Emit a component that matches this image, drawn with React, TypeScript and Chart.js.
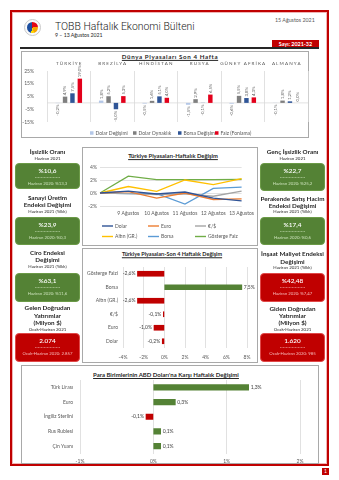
import React, { useEffect, useRef } from 'react';
import { Chart, registerables } from 'chart.js';

Chart.register(...registerables);
Chart.defaults.font.family = 'Lato, "Open Sans", sans-serif';

// ---------------- Data ----------------
// Dünya Piyasaları Son 4 Hafta
const worldCountries = ['TÜRKİYE', 'BREZİLYA', 'HİNDİSTAN', 'RUSYA', 'GÜNEY AFRİKA', 'ALMANYA'];
const worldSeriesNames = ['Dolar Değişimi', 'Dolar Oynaklık', 'Borsa Değişim', 'Faiz (Fonlama)'];
const worldDolar = [-0.2, 1.8, -0.5, -1.5, -0.6, -0.1];
const worldOynaklik = [4.9, 5.2, 1.6, 2.9, 5.5, 1.8];
const worldBorsa = [7.5, -5.0, 5.1, -0.1, 3.8, 1.2];
const worldFaiz = [19.0, 5.3, 4.0, 6.5, 4.3, 0.0];

// Türkiye Piyasaları - Haftalık Değişim
const weekLabels = ['', '9 Ağustos', '10 Ağustos', '11 Ağustos', '12 Ağustos', '13 Ağustos'];
const weekSeriesNames = ['Dolar', 'Euro', '€/$', 'Altın (GR.)', 'Borsa', 'Gösterge Faiz'];
const weekDolar = [0, 0.3, -0.15, 0.15, -0.8, -1.2];
const weekEuro = [0, 0.2, -0.8, 0.0, -1.0, -0.9];
const weekEurUsd = [0, -0.1, -0.25, -0.15, -0.5, 0.3];
const weekAltin = [0, 1.0, 0.25, 2.0, 1.3, 2.2];
const weekBorsa = [0, -0.1, -0.1, -1.7, 0.7, 0.9];
const weekFaiz = [0, 2.6, 2.05, 2.05, 2.05, 2.1];

// Türkiye Piyasaları - Son 4 Haftalık Değişim
const monthLabels = ['Gösterge Faizi', 'Borsa', 'Altın (GR.)', '€/$', 'Euro', 'Dolar'];
const monthValues = [-2.6, 7.5, -2.6, -0.1, -1.0, -0.2];

// Para Birimlerinin ABD Doları'na Karşı Haftalık Değişimi
const fxLabels = ['Türk Lirası', 'Euro', 'İngiliz Sterlini', 'Rus Rublesi', 'Çin Yuanı'];
const fxValues = [1.3, 0.3, -0.1, 0.1, 0.1];

// Gösterge kartları
const leftCards = [
  { title: ['İşsizlik Oranı'], period: 'Haziran 2021', value: '%10,6', prev: 'Haziran 2020: %13,3', good: true },
  { title: ['Sanayi Üretim', 'Endeksi Değişimi'], period: 'Haziran 2021 (Yıllık)', value: '%23,9', prev: 'Haziran 2020: %0,3', good: true },
  { title: ['Ciro Endeksi', 'Değişimi'], period: 'Haziran 2021 (Yıllık)', value: '%63,1', prev: 'Haziran 2020: %11,6', good: true },
  { title: ['Gelen Doğrudan', 'Yatırımlar', '(Milyon $)'], period: 'Ocak-Haziran 2021', value: '2.074', prev: 'Ocak-Haziran 2020: 2.857', good: false },
];
const rightCards = [
  { title: ['Genç İşsizlik Oranı'], period: 'Haziran 2021', value: '%22,7', prev: 'Haziran 2020: %25,2', good: true },
  { title: ['Perakende Satış Hacim', 'Endeksi Değişimi'], period: 'Haziran 2021 (Yıllık)', value: '%17,4', prev: 'Haziran 2020: %0,6', good: true },
  { title: ['İnşaat Maliyet Endeksi', 'Değişimi'], period: 'Haziran 2021 (Yıllık)', value: '%42,48', prev: 'Haziran 2020: %7,47', good: false },
  { title: ['Giden Doğrudan', 'Yatırımlar', '(Milyon $)'], period: 'Ocak-Haziran 2021', value: '1.620', prev: 'Ocak-Haziran 2020: 985', good: false },
];

// ---------------- Helpers ----------------
const fmtPct = (v: number) => (v < 0 ? '-' : '') + Math.abs(v).toFixed(1).replace('.', ',') + '%';
const FONT = 'Lato, "Open Sans", sans-serif';
const GREEN = '#548235';
const RED = '#c00000';

function makeValueLabels(id: string, mode: 'vertical' | 'horizontal', size: number, color: string) {
  return {
    id,
    afterDatasetsDraw(chart: any) {
      const ctx = chart.ctx;
      ctx.save();
      ctx.font = `${size}px ${FONT}`;
      ctx.fillStyle = color;
      chart.data.datasets.forEach((ds: any, di: number) => {
        const meta = chart.getDatasetMeta(di);
        meta.data.forEach((el: any, i: number) => {
          const v = ds.data[i];
          const txt = fmtPct(v);
          if (mode === 'vertical') {
            ctx.save();
            ctx.translate(el.x, v >= 0 ? el.y - 1.5 : el.y + 1.5);
            ctx.rotate(-Math.PI / 2);
            ctx.textAlign = v >= 0 ? 'left' : 'right';
            ctx.textBaseline = 'middle';
            ctx.fillText(txt, 0, 0);
            ctx.restore();
          } else {
            ctx.textBaseline = 'middle';
            ctx.textAlign = v >= 0 ? 'left' : 'right';
            ctx.fillText(txt, v >= 0 ? el.x + 2 : el.x - 2, el.y);
          }
        });
      });
      ctx.restore();
    },
  };
}

function makeLegend(id: string, pos: { x: number; y: number }[], kind: 'box' | 'line', size: number, len: number) {
  return {
    id,
    afterDraw(chart: any) {
      const ctx = chart.ctx;
      ctx.save();
      ctx.font = `${size}px ${FONT}`;
      ctx.textBaseline = 'middle';
      ctx.textAlign = 'left';
      chart.data.datasets.forEach((ds: any, i: number) => {
        const p = pos[i];
        if (!p) return;
        if (kind === 'box') {
          ctx.fillStyle = ds.backgroundColor;
          ctx.fillRect(p.x, p.y - len / 2, len, len);
        } else {
          ctx.strokeStyle = ds.borderColor;
          ctx.lineWidth = 1.4;
          ctx.beginPath();
          ctx.moveTo(p.x, p.y);
          ctx.lineTo(p.x + len, p.y);
          ctx.stroke();
        }
        ctx.fillStyle = '#595959';
        ctx.fillText(ds.label, p.x + len + 2, p.y);
      });
      ctx.restore();
    },
  };
}

const topCategoryLabels = {
  id: 'topCats',
  afterDraw(chart: any) {
    const ctx = chart.ctx;
    const xs = chart.scales.x;
    ctx.save();
    ctx.font = `4.6px ${FONT}`;
    ctx.fillStyle = '#595959';
    ctx.textAlign = 'center';
    ctx.textBaseline = 'middle';
    (ctx as any).letterSpacing = '1.1px';
    chart.data.labels.forEach((l: any, i: number) => {
      ctx.fillText(String(l), xs.getPixelForValue(i) + 0.5, 13);
    });
    ctx.restore();
  },
};

const zeroLine = {
  id: 'zeroLine',
  beforeDatasetsDraw(chart: any) {
    const ctx = chart.ctx;
    const y = chart.scales.y.getPixelForValue(0);
    const a = chart.chartArea;
    ctx.save();
    ctx.strokeStyle = '#d9d9d9';
    ctx.lineWidth = 0.8;
    ctx.beginPath();
    ctx.moveTo(a.left, y);
    ctx.lineTo(a.right, y);
    ctx.stroke();
    ctx.restore();
  },
};

// ---------------- Chart configs ----------------
function worldConfig() {
  const colors = ['#b4c7e7', '#7f7f7f', '#2f5597', '#e3001b'];
  const series = [worldDolar, worldOynaklik, worldBorsa, worldFaiz];
  return {
    type: 'bar',
    data: {
      labels: worldCountries,
      datasets: series.map((d, i) => ({
        label: worldSeriesNames[i],
        data: d,
        backgroundColor: colors[i],
        categoryPercentage: 0.68,
        barPercentage: 0.6,
      })),
    },
    options: {
      animation: false,
      responsive: false,
      layout: { padding: { top: 20, bottom: 9, right: 1, left: 0 } },
      plugins: { legend: { display: false }, tooltip: { enabled: false } },
      scales: {
        x: {
          ticks: { display: false },
          grid: { offset: true, drawTicks: false, color: '#d9d9d9', lineWidth: 0.8 },
          border: { display: false },
          afterFit: (s: any) => { s.height = 0; },
        },
        y: {
          min: -15,
          max: 25,
          ticks: { stepSize: 10, callback: (v: any) => v + '%', font: { size: 5 }, color: '#595959', padding: 13 },
          grid: { display: false, drawTicks: false },
          border: { display: false },
          afterFit: (s: any) => { s.width = 26; },
        },
      },
    },
    plugins: [
      zeroLine,
      makeValueLabels('worldLabels', 'vertical', 4.3, '#595959'),
      topCategoryLabels,
      makeLegend('worldLegend', [{ x: 69, y: 82 }, { x: 112, y: 82 }, { x: 157, y: 82 }, { x: 194, y: 82 }], 'box', 5, 3.5),
    ],
  };
}

function weekConfig() {
  const colors = ['#305496', '#ed7d31', '#a5a5a5', '#ffc000', '#5b9bd5', '#70ad47'];
  const series = [weekDolar, weekEuro, weekEurUsd, weekAltin, weekBorsa, weekFaiz];
  return {
    type: 'line',
    data: {
      labels: weekLabels,
      datasets: series.map((d, i) => ({
        label: weekSeriesNames[i],
        data: d,
        borderColor: colors[i],
        backgroundColor: colors[i],
        borderWidth: 1.3,
        pointRadius: 0,
        tension: 0,
      })),
    },
    options: {
      animation: false,
      responsive: false,
      layout: { padding: { top: 20, bottom: 28, right: 8, left: 0 } },
      plugins: { legend: { display: false }, tooltip: { enabled: false } },
      scales: {
        x: {
          ticks: { font: { size: 5 }, color: '#595959', padding: 4, maxRotation: 0, autoSkip: false },
          grid: { display: false, drawTicks: false },
          border: { display: false },
          afterFit: (s: any) => { s.height = 12; },
        },
        y: {
          min: -2,
          max: 4,
          ticks: { stepSize: 2, callback: (v: any) => v + '%', font: { size: 5 }, color: '#595959', padding: 3 },
          grid: { color: '#d9d9d9', lineWidth: 0.8, drawTicks: false },
          border: { display: false },
          afterFit: (s: any) => { s.width = 18; },
        },
      },
    },
    plugins: [
      makeLegend('weekLegend', [
        { x: 20, y: 79 }, { x: 66, y: 79 }, { x: 113, y: 79 },
        { x: 20, y: 89.5 }, { x: 66, y: 89.5 }, { x: 113, y: 89.5 },
      ], 'line', 5, 11),
    ],
  };
}

function hbarConfig(labels: string[], values: number[], opt: any) {
  return {
    type: 'bar',
    data: {
      labels,
      datasets: [{
        label: 'Değişim',
        data: values,
        backgroundColor: values.map((v) => (v >= 0 ? GREEN : RED)),
        barThickness: opt.thickness,
      }],
    },
    options: {
      indexAxis: 'y',
      animation: false,
      responsive: false,
      layout: { padding: opt.padding },
      plugins: { legend: { display: false }, tooltip: { enabled: false } },
      scales: {
        x: {
          min: opt.min,
          max: opt.max,
          ticks: { stepSize: opt.step, callback: (v: any) => v + '%', font: { size: 5 }, color: '#595959', padding: opt.xPad },
          grid: { color: '#d9d9d9', lineWidth: 0.8, drawTicks: false },
          border: { display: false },
          afterFit: (s: any) => { s.height = opt.xH; },
        },
        y: {
          ticks: { font: { size: 5 }, color: '#595959', padding: opt.yPad, autoSkip: false },
          grid: { display: false, drawTicks: false },
          border: { display: false },
          afterFit: (s: any) => { s.width = opt.yW; },
        },
      },
    },
    plugins: [makeValueLabels(opt.id, 'horizontal', 5, '#404040')],
  };
}

// ---------------- Components ----------------
function ChartCanvas({ left, top, width, height, make }: any) {
  const ref = useRef<HTMLCanvasElement>(null);
  useEffect(() => {
    const chart = new Chart(ref.current as any, make());
    return () => chart.destroy();
  }, []);
  return (
    <canvas
      ref={ref}
      width={width}
      height={height}
      style={{ position: 'absolute', left, top, width, height }}
    />
  );
}

function Txt({ x, y, size, bold, color, children, ls, underline, weight }: any) {
  return (
    <div
      style={{
        position: 'absolute',
        left: x - 100,
        width: 200,
        top: y,
        transform: 'translateY(-50%)',
        textAlign: 'center',
        fontSize: size,
        lineHeight: 1,
        whiteSpace: 'nowrap',
        fontWeight: weight ?? (bold ? 700 : 400),
        color: color || '#262626',
        letterSpacing: ls || 0,
        textDecoration: underline ? 'underline' : 'none',
      }}
    >
      {children}
    </div>
  );
}

function Box({ left, top, width, height }: any) {
  return (
    <div style={{ position: 'absolute', left, top, width, height, boxSizing: 'border-box', border: '1px solid #a9a9a9' }} />
  );
}

function CardView({ cx, titleYs, periodY, boxTop, boxH, card }: any) {
  const bg = card.good ? GREEN : RED;
  const light = card.good ? '#c9e0b8' : '#f6b9b9';
  return (
    <>
      {card.title.map((t: string, i: number) => (
        <Txt key={i} x={cx} y={titleYs[i]} size={6.3} bold>{t}</Txt>
      ))}
      <Txt x={cx} y={periodY} size={4.4} color="#262626">{card.period}</Txt>
      <div
        style={{
          position: 'absolute', left: cx - 32.5, top: boxTop, width: 65, height: boxH,
          background: bg, borderRadius: 4, boxSizing: 'border-box',
          border: `1px solid ${card.good ? '#6b9a47' : '#e04848'}`,
        }}
      />
      <Txt x={cx} y={boxTop + 8} size={6.4} color="#ffffff" weight={600}>{card.value}</Txt>
      <Txt x={cx} y={boxTop + 14.5} size={4} color={light}>{'-----------------'}</Txt>
      <Txt x={cx} y={boxTop + 21} size={4.3} color={light}>{card.prev}</Txt>
    </>
  );
}

const leftLayout = [
  { titleYs: [152], periodY: 158.5, boxTop: 163, boxH: 26 },
  { titleYs: [198, 205], periodY: 211.5, boxTop: 217, boxH: 28 },
  { titleYs: [253, 260], periodY: 266.5, boxTop: 273, boxH: 29 },
  { titleYs: [308, 315.5, 323], periodY: 329.5, boxTop: 333, boxH: 29 },
];
const rightLayout = [
  { titleYs: [152], periodY: 158.5, boxTop: 163, boxH: 28 },
  { titleYs: [198.5, 205.5], periodY: 212, boxTop: 217, boxH: 28 },
  { titleYs: [254, 261.5], periodY: 268, boxTop: 273, boxH: 29 },
  { titleYs: [308.5, 316, 323], periodY: 330, boxTop: 333, boxH: 29 },
];

export default function App() {
  useEffect(() => {
    document.body.style.margin = '0';
  }, []);
  return (
    <div
      style={{
        position: 'absolute', left: 0, top: 0, width: 339, height: 480, background: '#ffffff',
        fontFamily: FONT, overflow: 'hidden', color: '#262626',
      }}
    >
      {/* page frame */}
      <div
        style={{
          position: 'absolute', left: 10, top: 10, width: 319, height: 456, boxSizing: 'border-box',
          border: '2px solid #c00000', boxShadow: 'inset 0 0 0 1px #f0b4b4',
        }}
      />

      {/* header */}
      <div
        style={{
          position: 'absolute', left: 24, top: 19, width: 17, height: 17, borderRadius: '50%',
          border: '1px solid #c9c9c9', boxSizing: 'border-box', background: '#fafafa',
        }}
      />
      <div
        style={{
          position: 'absolute', left: 27, top: 22, width: 11, height: 11, borderRadius: '50%',
          background: 'conic-gradient(#e30613 0 22%, #f7a600 22% 45%, #ffd500 45% 55%, #1d4f9f 55% 100%)',
        }}
      />
      <div
        style={{
          position: 'absolute', left: 55, top: 21.5, fontSize: 10.4, fontFamily: 'Roboto, sans-serif',
          fontWeight: 300, lineHeight: 1, whiteSpace: 'nowrap', color: '#1a1a1a',
        }}
      >
        TOBB Haftalık Ekonomi Bülteni
      </div>
      <div style={{ position: 'absolute', left: 55, top: 32.5, fontSize: 5.2, lineHeight: 1, whiteSpace: 'nowrap' }}>
        9 – 13 Ağustos 2021
      </div>
      <div style={{ position: 'absolute', left: 275, top: 17.5, fontSize: 5.3, lineHeight: 1, whiteSpace: 'nowrap', color: '#595959' }}>
        15 Ağustos 2021
      </div>
      <div
        style={{
          position: 'absolute', left: 272, top: 40, width: 47, height: 9, background: '#c00000', color: '#fff',
          fontSize: 5.4, fontWeight: 700, lineHeight: '9px', textAlign: 'center', whiteSpace: 'nowrap',
        }}
      >
        Sayı: 2021-32
      </div>
      <div style={{ position: 'absolute', left: 20, top: 47, width: 299, height: 2, background: '#262626' }} />

      {/* chart boxes */}
      <Box left={21} top={51} width={288} height={87} />
      <Box left={82} top={147} width={176} height={99} />
      <Box left={82} top={248} width={176} height={115} />
      <Box left={21} top={365} width={298} height={99} />

      {/* chart titles */}
      <Txt x={170} y={57} size={6.2} bold underline ls="0.6px">Dünya Piyasaları Son 4 Hafta</Txt>
      <Txt x={173} y={156} size={5.8} bold underline>Türkiye Piyasaları-Haftalık Değişim</Txt>
      <Txt x={172} y={255} size={5.5} bold underline>Türkiye Piyasaları-Son 4 Haftalık Değişim</Txt>
      <Txt x={166} y={375} size={6} bold underline>Para Birimlerinin ABD Doları'na Karşı Haftalık Değişimi</Txt>

      {/* charts */}
      <ChartCanvas left={21} top={51} width={288} height={87} make={worldConfig} />
      <ChartCanvas left={82} top={147} width={176} height={99} make={weekConfig} />
      <ChartCanvas
        left={82} top={248} width={176} height={115}
        make={() => hbarConfig(monthLabels, monthValues, {
          id: 'monthLabels', thickness: 5, min: -4, max: 8, step: 2,
          padding: { top: 19, right: 11, bottom: 3, left: 0 }, xPad: 6, xH: 12, yPad: 5, yW: 41,
        })}
      />
      <ChartCanvas
        left={21} top={365} width={298} height={99}
        make={() => hbarConfig(fxLabels, fxValues, {
          id: 'fxLabels', thickness: 5.5, min: -1, max: 2, step: 1,
          padding: { top: 15, right: 19, bottom: 0, left: 0 }, xPad: 5, xH: 10.5, yPad: 7, yW: 59,
        })}
      />

      {/* indicator cards */}
      {leftCards.map((c, i) => (
        <CardView key={'l' + i} cx={47.5} card={c} {...leftLayout[i]} />
      ))}
      {rightCards.map((c, i) => (
        <CardView key={'r' + i} cx={292.5} card={c} {...rightLayout[i]} />
      ))}

      {/* page number */}
      <div
        style={{
          position: 'absolute', left: 322, top: 468, width: 7, height: 7, background: '#c00000', color: '#fff',
          fontSize: 5, lineHeight: '7px', textAlign: 'center',
        }}
      >
        1
      </div>
    </div>
  );
}
